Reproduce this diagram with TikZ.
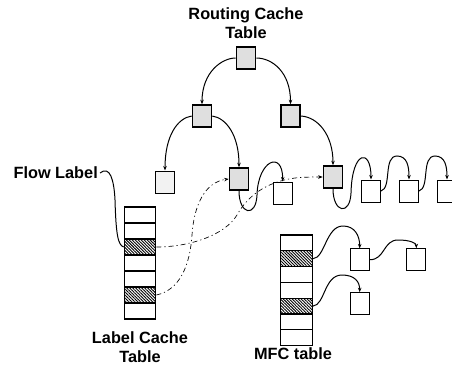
\documentclass[tikz,border=0pt]{standalone}
\usepackage{fontspec}
\setmainfont{Liberation Sans}
\usetikzlibrary{arrows.meta,patterns.meta}
\pgfdeclarelayer{bg}
\pgfsetlayers{bg,main}
\begin{document}
\begin{tikzpicture}[x=1pt,y=-1pt,
  lbl/.style={font=\fontsize{16.3}{19}\selectfont\bfseries, align=center, inner sep=0pt},
  bx/.style={draw, line width=1pt, fill=white, minimum width=19pt, minimum height=22pt, inner sep=0pt},
  sbx/.style={bx, line width=1.6pt, fill=gray!25},
  lbx/.style={bx, fill=gray!10},
  cell/.style={draw, line width=1.2pt, fill=white, minimum width=31.5pt, minimum height=16pt, inner sep=0pt},
  mcell/.style={cell, minimum height=15.8pt},
  hatch/.style={preaction={fill=white}, pattern={Lines[angle=-45,distance=2.1pt,line width=0.9pt]}},
  link/.style={line width=1pt},
  arr/.style={-{Stealth[length=4.5pt,width=3.5pt]}},
  dd/.style={line width=0.65pt, dash pattern=on 5pt off 3pt on 1.2pt off 3pt},
]
\clip (0,0) rectangle (452,372);
% labels
\node[lbl] (rct) at (246,23.5) {Routing Cache\\Table};
\node[lbl, anchor=east] (fl) at (98,173) {Flow Label};
\node[lbl] (lct) at (140,347.5) {Label Cache\\Table};
\node[lbl] (mft) at (293,354) {MFC table};
% tree
\node[sbx] (root) at (246,58) {};
\node[sbx] (l1l) at (202,116) {};
\node[sbx] (l1r) at (290.5,116) {};
\node[lbx] (lll) at (165,182) {};
\node[sbx] (llr) at (239,179) {};
\node[bx] (w0) at (282.7,193) {};
\node[sbx] (rs) at (333,177) {};
\node[bx] (w1) at (371,191) {};
\node[bx] (w2) at (409,191) {};
\node[bx] (w3) at (447,191) {};
% label cache table
\foreach \i in {1,...,7} {
  \node[cell] (lc\i) at (140,{215+16*(\i-1)}) {};
}
\node[cell,hatch] at (lc3) {};
\node[cell,hatch] at (lc6) {};
% MFC table
\foreach \i in {1,...,7} {
  \node[mcell] (m\i) at (296.6,{242.9+15.8*(\i-1)}) {};
}
\node[mcell,hatch] at (m2) {};
\node[mcell,hatch] at (m5) {};
\node[bx, minimum height=21.5pt] (b1) at (359.7,259.7) {};
\node[bx, minimum height=21.5pt] (b2) at (416.3,259.5) {};
\node[bx, minimum height=21.5pt] (b3) at (359.7,303.5) {};
% dashed references (behind boxes)
\begin{pgfonlayer}{bg}
\draw[dd,arr] (lc3.east) .. controls (190,247) and (225,235) .. (237,215)
   .. controls (247,197) and (265,182) .. (295,178)
   .. controls (305,177) and (314,177) .. (rs.west);
\draw[dd,arr] (lc6.east) .. controls (180,290) and (190,265) .. (192,235)
   .. controls (194,205) and (205,182) .. (llr.west);
\end{pgfonlayer}
% tree links
\draw[link,arr] (root.west) .. controls (222,58) and (202,72) .. (l1l.north);
\draw[link,arr] (root.east) .. controls (272,58) and (290.5,72) .. (l1r.north);
\draw[link,arr] (l1l.west) .. controls (178,118) and (165,135) .. (lll.north);
\draw[link,arr] (l1l.east) .. controls (226,118) and (239,135) .. (llr.north);
\draw[link,arr] (l1r.east) .. controls (318,117) and (333,135) .. (rs.north);
% chains
\draw[link,arr] (llr.south) .. controls (239,215) and (256,218) .. (257,195)
   .. controls (258,160) and (282.7,150) .. (w0.north);
\draw[link,arr] (rs.south) .. controls (333,213) and (350,216) .. (351,193)
   .. controls (352,150) and (371,148) .. (w1.north);
\draw[link,arr] (w1.east) .. controls (392,188) and (383,156) .. (397,156)
   .. controls (407,156) and (409,166) .. (w2.north);
\draw[link,arr] (w2.east) .. controls (430,188) and (421,156) .. (435,156)
   .. controls (445,156) and (447,166) .. (w3.north);
% flow label pointer
\draw[link] ([xshift=2pt]fl.east) .. controls (110,165) and (114,180) .. (115,200)
   .. controls (116,235) and (118,245) .. (lc3.west);
% MFC links
\draw[link,arr] (m2.east) .. controls (325,258) and (326,226) .. (343,226)
   .. controls (355,226) and (359.7,236) .. (b1.north);
\draw[link,arr] (b1.east) .. controls (385,260) and (383,240) .. (398,240)
   .. controls (410,240) and (416.3,243) .. (b2.north);
\draw[link,arr] (m5.east) .. controls (325,305) and (324,275) .. (342,275)
   .. controls (355,275) and (359.7,282) .. (b3.north);
\end{tikzpicture}
\end{document}
